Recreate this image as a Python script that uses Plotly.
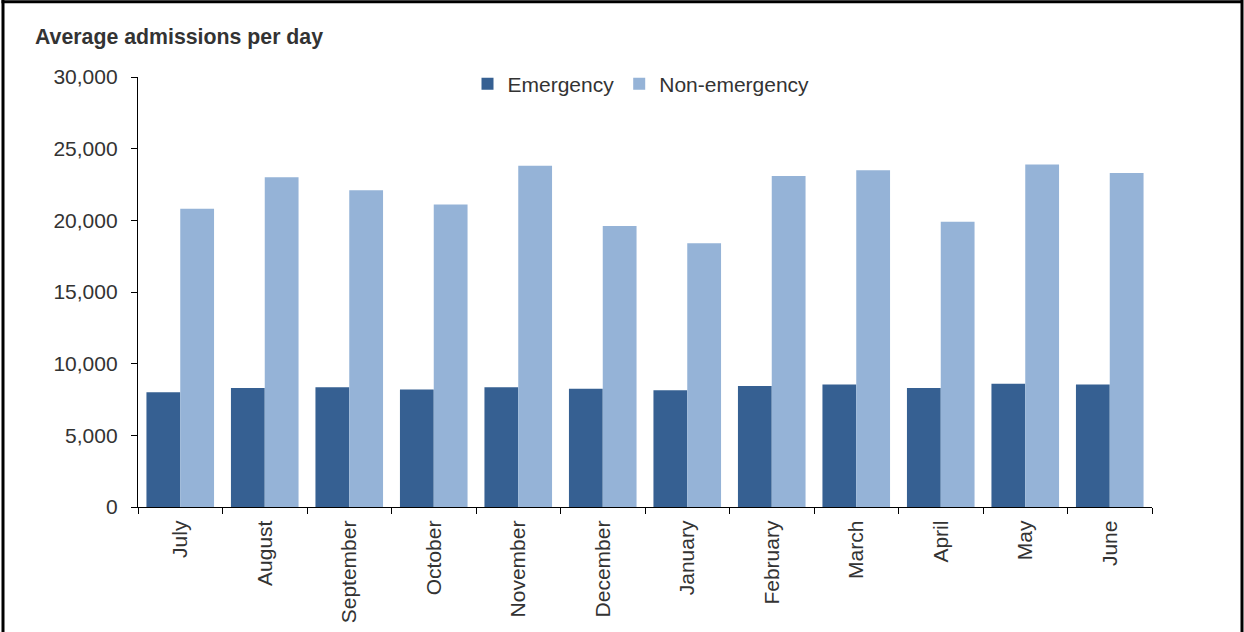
import plotly.graph_objects as go

# Monthly average admissions per day
months = ["July", "August", "September", "October", "November", "December",
          "January", "February", "March", "April", "May", "June"]
emergency = [8000, 8300, 8350, 8200, 8350, 8250, 8150, 8450, 8550, 8300, 8600, 8550]
non_emergency = [20800, 23000, 22100, 21100, 23800, 19600, 18400, 23100, 23500, 19900, 23900, 23300]

y_ticks = [0, 5000, 10000, 15000, 20000, 25000, 30000]
y_tick_text = ["0", "5,000", "10,000", "15,000", "20,000", "25,000", "30,000"]

DARK = "#366092"
LIGHT = "#95B3D7"
TEXT = "#333333"
FONT = "Liberation Sans, Arial, sans-serif"

W, H = 1244, 632
ML, MR, MT, MB = 138, 92, 77, 125
PW, PH = W - ML - MR, H - MT - MB


def px_x(px):
    return (px - ML) / PW


def px_y(py):
    return (H - MB - py) / PH


fig = go.Figure()
fig.add_trace(go.Bar(name="Emergency", x=months, y=emergency,
                     marker=dict(color=DARK, line=dict(width=0))))
fig.add_trace(go.Bar(name="Non-emergency", x=months, y=non_emergency,
                     marker=dict(color=LIGHT, line=dict(width=0))))

fig.update_layout(
    width=W, height=H,
    margin=dict(l=ML, r=MR, t=MT, b=MB, autoexpand=False),
    paper_bgcolor="white", plot_bgcolor="white",
    barmode="group", bargap=0.2, bargroupgap=0,
    font=dict(family=FONT, size=21, color=TEXT),
    showlegend=True,
    legend=dict(orientation="h", x=px_x(641), xanchor="center",
                y=px_y(84), yanchor="middle",
                font=dict(family=FONT, size=21, color=TEXT),
                bgcolor="rgba(0,0,0,0)", itemwidth=30,
                traceorder="normal"),
    xaxis=dict(
        type="category",
        showline=True, linecolor="#000000", linewidth=1.3,
        ticks="outside", tickson="boundaries", ticklen=6,
        tickcolor="#000000", tickwidth=1.3,
        tickangle=-90, ticklabelstandoff=4,
        tickfont=dict(family=FONT, size=21, color=TEXT),
        showgrid=False, zeroline=False,
    ),
    yaxis=dict(
        range=[0, 30000],
        tickvals=y_ticks, ticktext=y_tick_text,
        showline=True, linecolor="#000000", linewidth=1.3,
        ticks="outside", ticklen=6, tickcolor="#000000", tickwidth=1.3,
        ticklabelstandoff=9,
        tickfont=dict(family=FONT, size=21, color=TEXT),
        showgrid=False, zeroline=False,
    ),
    annotations=[
        dict(text="<b>Average admissions per day</b>", xref="paper", yref="paper",
             x=px_x(33), y=px_y(37), xanchor="left", yanchor="middle",
             showarrow=False, font=dict(family=FONT, size=21.3, color=TEXT)),
    ],
    shapes=[
        # frame around the chart (left, top, right)
        dict(type="line", xref="paper", yref="paper",
             x0=px_x(3), x1=px_x(3), y0=px_y(0), y1=px_y(H + 5),
             line=dict(color="#000000", width=3)),
        dict(type="line", xref="paper", yref="paper",
             x0=px_x(1.5), x1=px_x(1243), y0=px_y(1.8), y1=px_y(1.8),
             line=dict(color="#000000", width=3)),
        dict(type="line", xref="paper", yref="paper",
             x0=px_x(1242), x1=px_x(1242), y0=px_y(0), y1=px_y(H + 5),
             line=dict(color="#000000", width=3)),
    ],
)

fig.write_html("out.html")
